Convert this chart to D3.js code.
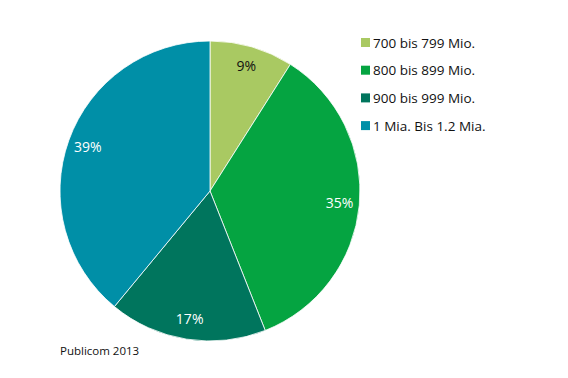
<!DOCTYPE html>
<html lang="de">
<head>
<meta charset="UTF-8">
<title>Pie Chart</title>
<script src="https://d3js.org/d3.v7.min.js"></script>
<style>
body { margin: 0; background: #fff; font-family: "Open Sans", sans-serif; }
</style>
</head>
<body>
<svg width="568" height="378"></svg>
<script>
// data
const categories = ["700 bis 799 Mio.", "800 bis 899 Mio.", "900 bis 999 Mio.", "1 Mia. Bis 1.2 Mia."];
const shares = [9, 35, 17, 39];
const colors = ["#a9c962", "#05a441", "#00755d", "#008fa7"];
const labelColors = ["#111", "#fff", "#fff", "#fff"];
const source = "Publicom 2013";

const svg = d3.select("svg");
const cx = 210, cy = 191, radius = 150;

const pie = d3.pie().sort(null).value(function(d) { return d; });
const arc = d3.arc().innerRadius(0).outerRadius(radius);
const labelArc = d3.arc().innerRadius(130).outerRadius(130);

const g = svg.append("g").attr("transform", "translate(" + cx + "," + cy + ")");

const arcs = pie(shares);

g.selectAll("path")
  .data(arcs)
  .enter().append("path")
    .attr("d", arc)
    .attr("fill", function(d, i) { return colors[i]; })
    .attr("stroke", "#fff")
    .attr("stroke-width", 0.8);

g.selectAll("text")
  .data(arcs)
  .enter().append("text")
    .attr("transform", function(d) { return "translate(" + labelArc.centroid(d) + ")"; })
    .attr("dy", "0.35em")
    .attr("text-anchor", "middle")
    .attr("font-size", 14)
    .attr("fill", function(d, i) { return labelColors[i]; })
    .text(function(d) { return d.data + "%"; });

// legend
const legend = svg.append("g").attr("transform", "translate(361,38)");
const item = legend.selectAll("g")
  .data(categories)
  .enter().append("g")
    .attr("transform", function(d, i) { return "translate(0," + (i * 27.7) + ")"; });

item.append("rect")
  .attr("width", 9)
  .attr("height", 9)
  .attr("fill", function(d, i) { return colors[i]; });

item.append("text")
  .attr("x", 12)
  .attr("y", 5)
  .attr("dy", "0.35em")
  .attr("font-size", 13.5)
  .attr("fill", "#111")
  .text(function(d) { return d; });

svg.append("text")
  .attr("x", 60)
  .attr("y", 355)
  .attr("font-size", 11.5)
  .attr("fill", "#111")
  .text(source);
</script>
</body>
</html>
